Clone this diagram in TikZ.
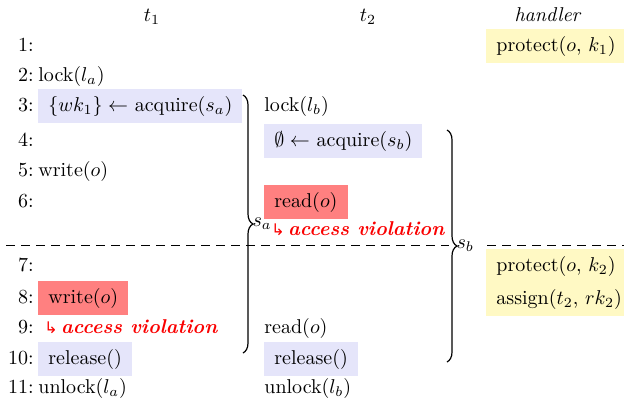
\documentclass[tikz,border=0pt]{standalone}
\usepackage{amsmath,amssymb}
\usepackage{fontspec}
\newfontfamily\arrowfont{DejaVu Sans}
\usetikzlibrary{positioning,decorations.pathreplacing}
\definecolor{lkBlue}{RGB}{229,229,250}
\definecolor{lkRed}{RGB}{255,128,128}
\definecolor{lkYellow}{RGB}{255,249,196}
\definecolor{lkViol}{RGB}{250,0,0}
\tikzset{
    stmt/.style={anchor=west, inner xsep=5pt, inner ysep=3.5pt,
                 text height=7.5pt, text depth=2.5pt},
    plainstmt/.style={stmt, inner xsep=0pt},
    acq/.style={stmt, fill=lkBlue},
    hit/.style={stmt, fill=lkRed},
    hdl/.style={stmt, fill=lkYellow},
    lineno/.style={anchor=east, inner xsep=0pt, text height=7.5pt, text depth=2.5pt},
    viol/.style={anchor=west, inner xsep=0pt, text height=7.5pt, text depth=2.5pt,
                 text=lkViol, font=\bfseries\itshape},
    sect/.style={decorate, decoration={brace, amplitude=5pt}, semithick},
    split/.style={dash pattern=on 4.5pt off 3pt, thin}
}
\newcommand{\violation}{{\normalfont\arrowfont\footnotesize ↳}\,access violation}

\begin{document}
\begin{tikzpicture}[x=0.5pt, y=-0.5pt]
  \useasboundingbox (0,0) rectangle (624,404);

  % Headers
  \node (t1) at (152,17) {$t_1$};
  \node (t2) at (368,17) {$t_2$};
  \node (hd) at (548,15) {\textit{handler}};

  % Line numbers
  \foreach \n/\y in {1/46,2/76,3/106,4/141,5/171,6/202,7/266,8/298,9/328,10/359,11/388}
    \node[lineno] (n\n) at (34,\y) {\n:};

  % Thread t1
  \node[plainstmt] (a2) at (38,76) {lock($l_a$)};
  \node[acq] (a3) at (38,106) {$\{wk_1\} \leftarrow$ acquire($s_a$)};
  \node[plainstmt] (a5) at (38,171) {write($o$)};
  \node[hit] (a8) at (38,298) {write($o$)};
  \node[viol] (a9) at (44,328) {\violation};
  \node[acq] (a10) at (38,359) {release()};
  \node[plainstmt] (a11) at (38,388) {unlock($l_a$)};

  % Thread t2
  \node[plainstmt] (b3) at (264,106) {lock($l_b$)};
  \node[acq] (b4) at (264,141) {$\emptyset \leftarrow$ acquire($s_b$)};
  \node[hit] (b6) at (264,202) {read($o$)};
  \node[viol] (b6v) at (271,230) {\violation};
  \node[plainstmt] (b9) at (264,328) {read($o$)};
  \node[acq] (b10) at (264,359) {release()};
  \node[plainstmt] (b11) at (264,388) {unlock($l_b$)};

  % Handler
  \node[hdl] (h1) at (486,46) {protect($o$, $k_1$)};
  \node[hdl] (h7) at (486,266) {protect($o$, $k_2$)};
  \node[hdl] (h8) at (486,299) {assign($t_2$, $rk_2$)};

  % Sections
  \coordinate (saTop) at (243,95);
  \coordinate (saBot) at (243,353);
  \coordinate (sbTop) at (447,130);
  \coordinate (sbBot) at (447,362);
  \draw[sect] (saTop) -- (saBot) node[midway, anchor=west, inner sep=1pt, xshift=3.5pt] (sa) {$s_a$};
  \draw[sect] (sbTop) -- (sbBot) node[midway, anchor=west, inner sep=1pt, xshift=3.5pt] (sb) {$s_b$};

  % Split
  \coordinate (cutL) at (6,245);
  \coordinate (cutM) at (449,245);
  \coordinate (cutN) at (487,245);
  \coordinate (cutR) at (624,245);
  \draw[split] (cutL) -- (cutM);
  \draw[split] (cutN) -- (cutR);
\end{tikzpicture}
\end{document}
